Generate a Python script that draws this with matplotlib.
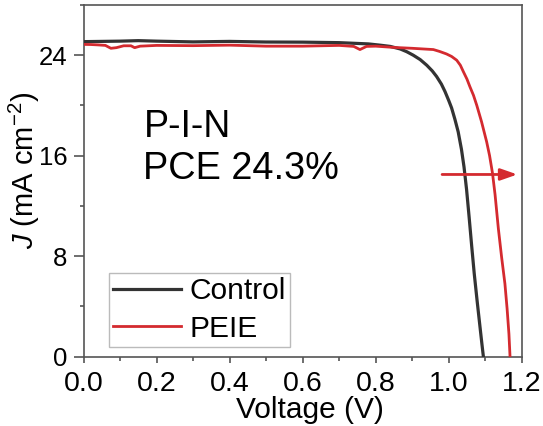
import matplotlib
matplotlib.use("Agg")
import matplotlib.pyplot as plt
from matplotlib.ticker import MultipleLocator

plt.rcParams['font.family'] = ['Liberation Sans', 'DejaVu Sans']
plt.rcParams['mathtext.fontset'] = 'custom'
plt.rcParams['mathtext.rm'] = 'Liberation Sans'
plt.rcParams['mathtext.it'] = 'Liberation Sans:italic'

# ---- data ----
control_v = [0, 0.05, 0.10, 0.15, 0.20, 0.30, 0.40, 0.50, 0.60, 0.70, 0.78, 0.812,
             0.84, 0.867, 0.885, 0.903, 0.922, 0.94, 0.955, 0.967, 0.98, 0.99, 1.0,
             1.008, 1.017, 1.026, 1.035, 1.042, 1.049, 1.056, 1.063, 1.070, 1.078,
             1.086, 1.091, 1.095]
control_j = [25.08, 25.1, 25.12, 25.16, 25.12, 25.06, 25.1, 25.05, 25.04, 25.0, 24.9,
             24.8, 24.7, 24.5, 24.28, 24.0, 23.65, 23.2, 22.75, 22.3, 21.7, 21.1, 20.4,
             19.8, 18.9, 17.9, 16.5, 15.1, 13.3, 11.1, 8.8, 6.6, 4.4, 2.3, 1.0, 0]

peie_v = [0, 0.02, 0.04, 0.06, 0.075, 0.09, 0.11, 0.13, 0.14, 0.155, 0.20, 0.30,
          0.40, 0.50, 0.60, 0.70, 0.74, 0.757, 0.775, 0.80, 0.85, 0.90, 0.94, 0.958,
          0.975, 0.994, 1.008, 1.022, 1.032, 1.040, 1.050, 1.058, 1.068, 1.077,
          1.090, 1.104, 1.112, 1.120, 1.127, 1.136, 1.145, 1.154, 1.160, 1.165, 1.168]
peie_j = [24.86, 24.85, 24.82, 24.78, 24.55, 24.6, 24.75, 24.75, 24.6, 24.72, 24.78,
          24.76, 24.8, 24.72, 24.72, 24.78, 24.7, 24.45, 24.7, 24.72, 24.62, 24.55,
          24.48, 24.45, 24.3, 24.1, 23.9, 23.6, 23.2, 22.7, 22.1, 21.5, 20.8, 20.0,
          18.7, 17.1, 16.0, 14.6, 12.9, 10.2, 7.9, 5.8, 3.8, 1.8, 0]

series_labels = ["Control", "PEIE"]
x_ticks = [0.0, 0.2, 0.4, 0.6, 0.8, 1.0, 1.2]
y_ticks = [0, 8, 16, 24]
arrow_v = [0.982, 1.188]
arrow_j = 14.5

BLACK = '#333333'
RED = '#d42a2f'
SPINE = '#555555'

fig = plt.figure(figsize=(5.43, 4.26), dpi=100)
ax = fig.add_axes([0.1538, 0.1631, 0.8070, 0.8252])

ax.plot(control_v, control_j, color=BLACK, lw=2.3, label=series_labels[0], zorder=3)
ax.plot(peie_v, peie_j, color=RED, lw=2.0, label=series_labels[1], zorder=3)

ax.set_xlim(0, 1.2)
ax.set_ylim(0, 28)
ax.set_xticks(x_ticks)
ax.set_xticklabels([f"{t:.1f}" for t in x_ticks])
ax.set_yticks(y_ticks)
ax.xaxis.set_minor_locator(MultipleLocator(0.1))
ax.yaxis.set_minor_locator(MultipleLocator(4))

for s in ax.spines.values():
    s.set_color(SPINE)
    s.set_linewidth(1.2)

ax.tick_params(axis='x', which='major', direction='out', length=4.3, width=1.2,
               color=SPINE, labelsize=20.5, pad=6)
ax.tick_params(axis='x', which='minor', direction='out', length=3, width=1.2, color=SPINE)
ax.tick_params(axis='y', which='major', direction='out', length=7.5, width=1.2,
               color=SPINE, labelsize=18.5, pad=4)
ax.tick_params(axis='y', which='minor', direction='out', length=3, width=1.2, color=SPINE)

ax.set_xlabel("Voltage (V)", fontsize=21.5)
ax.xaxis.set_label_coords(0.516, -0.152)
ax.xaxis.label.set_va('center')
ax.set_ylabel(r"$\it{J}$ (mA cm$^{-2}$)", fontsize=21)
ax.yaxis.set_label_coords(-0.136, 0.53)
ax.yaxis.label.set_va('center')

ax.text(0.164, 18.3, "P-I-N", fontsize=27, ha='left', va='center')
ax.text(0.164, 14.9, "PCE 24.3%", fontsize=27.3, ha='left', va='center')

ax.annotate("", xy=(arrow_v[1], arrow_j), xytext=(arrow_v[0], arrow_j),
            arrowprops=dict(arrowstyle='-|>,head_length=1.0,head_width=0.35',
                            color=RED, lw=2.0, shrinkA=0, shrinkB=0))

leg = ax.legend(loc='lower left', bbox_to_anchor=(0.058, 0.027), fontsize=21.5,
                frameon=True, fancybox=False, edgecolor='#aaaaaa',
                handlelength=2.25, handletextpad=0.3, labelspacing=0.32,
                borderpad=0.15, borderaxespad=0)
leg.get_frame().set_linewidth(1.0)

fig.savefig("out.png", dpi=100)
